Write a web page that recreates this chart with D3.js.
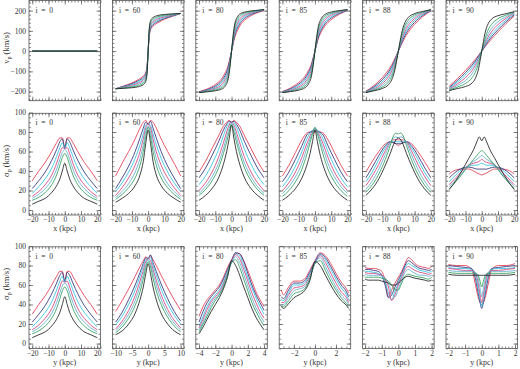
<!DOCTYPE html>
<html>
<head>
<meta charset="utf-8">
<script src="https://cdn.jsdelivr.net/npm/d3@7"></script>
<style>
	body { margin: 0; background: #fff; }
	text { font-family: "Liberation Serif", serif; fill: #333; }
</style>
</head>
<body>
<div id="chart-area"></div>
<script>
let width = 520;
let height = 369;

// inclinations, one per column
const inclinations = [0, 60, 80, 85, 88, 90];
// curve colours, black (innermost) to red (outermost)
const lineColors = ["#1e1e1e", "#2f9d5c", "#62afcc", "#d4407c", "#2ec3e2", "#34317a", "#e23a52"];

// ---- row 1: v_p along x ----
const vpX0 = [-20, 20];
const vp0 = [[0, 0], [0, 0], [0, 0], [0, 0], [0, 0], [0, 0], [0, 0]];

const vpX60 = [-20, -15, -10, -6, -3, -1.5, -0.7, 0, 0.7, 1.5, 3, 6, 10, 15, 20];
const vp60 = [
	[-186, -184, -181, -176, -166, -150, -112, 0, 112, 150, 166, 176, 181, 184, 186],
	[-186, -182, -177, -170, -158, -141, -105, 0, 105, 141, 158, 170, 177, 182, 186],
	[-186, -180, -173, -164, -150, -132, -98, 0, 98, 132, 150, 164, 173, 180, 186],
	[-186, -178, -169, -158, -143, -125, -92, 0, 92, 125, 143, 158, 169, 178, 186],
	[-186, -176, -165, -152, -136, -118, -86, 0, 86, 118, 136, 152, 165, 176, 186],
	[-186, -174, -161, -146, -130, -112, -80, 0, 80, 112, 130, 146, 161, 174, 186],
	[-186, -172, -157, -140, -123, -105, -74, 0, 74, 105, 123, 140, 157, 172, 186]
];

const vpX80 = [-20, -15, -10, -6, -4, -2, -1, 0, 1, 2, 4, 6, 10, 15, 20];
const vp80 = [
	[-205, -201, -196, -187, -174, -135, -80, 0, 80, 135, 174, 187, 196, 201, 205],
	[-205, -199, -192, -180, -164, -122, -70, 0, 70, 122, 164, 180, 192, 199, 205],
	[-205, -197, -188, -172, -153, -110, -62, 0, 62, 110, 153, 172, 188, 197, 205],
	[-204, -195, -183, -164, -142, -99, -54, 0, 54, 99, 142, 164, 183, 195, 204],
	[-203, -193, -178, -155, -131, -88, -47, 0, 47, 88, 131, 155, 178, 193, 203],
	[-202, -190, -172, -146, -120, -78, -41, 0, 41, 78, 120, 146, 172, 190, 202],
	[-200, -187, -165, -136, -108, -68, -35, 0, 35, 68, 108, 136, 165, 187, 200]
];

const vpX85 = [-20, -15, -10, -6, -4, -2, -1, 0, 1, 2, 4, 6, 10, 15, 20];
const vp85 = [
	[-205, -200, -193, -180, -162, -118, -66, 0, 66, 118, 162, 180, 193, 200, 205],
	[-205, -198, -188, -171, -150, -106, -58, 0, 58, 106, 150, 171, 188, 198, 205],
	[-204, -196, -183, -162, -139, -96, -51, 0, 51, 96, 139, 162, 183, 196, 204],
	[-203, -193, -177, -153, -128, -86, -45, 0, 45, 86, 128, 153, 177, 193, 203],
	[-202, -190, -170, -143, -117, -76, -40, 0, 40, 76, 117, 143, 170, 190, 202],
	[-201, -186, -163, -133, -106, -67, -34, 0, 34, 67, 106, 133, 163, 186, 201],
	[-200, -182, -155, -123, -96, -59, -30, 0, 30, 59, 96, 123, 155, 182, 200]
];

const vpX88 = [-20, -15, -10, -6, -4, -2, -1, 0, 1, 2, 4, 6, 10, 15, 20];
const vp88 = [
	[-205, -196, -185, -165, -140, -88, -46, 0, 46, 88, 140, 165, 185, 196, 205],
	[-204, -193, -178, -152, -124, -74, -38, 0, 38, 74, 124, 152, 178, 193, 204],
	[-203, -190, -170, -139, -110, -63, -32, 0, 32, 63, 110, 139, 170, 190, 203],
	[-202, -186, -161, -126, -97, -54, -27, 0, 27, 54, 97, 126, 161, 186, 202],
	[-201, -181, -152, -114, -86, -46, -23, 0, 23, 46, 86, 114, 152, 181, 201],
	[-200, -176, -142, -103, -76, -40, -20, 0, 20, 40, 76, 103, 142, 176, 200],
	[-198, -170, -132, -92, -66, -34, -17, 0, 17, 34, 66, 92, 132, 170, 198]
];

const vpX90 = [-20, -15, -10, -6, -4, -2, -1, 0, 1, 2, 4, 6, 10, 15, 20];
const vp90 = [
	[-195, -185, -175, -158, -136, -88, -46, 0, 46, 88, 136, 158, 175, 185, 195],
	[-193, -178, -160, -132, -106, -60, -30, 0, 30, 60, 106, 132, 160, 178, 193],
	[-190, -170, -145, -112, -86, -46, -23, 0, 23, 46, 86, 112, 145, 170, 190],
	[-187, -162, -131, -96, -70, -37, -18, 0, 18, 37, 70, 96, 131, 162, 187],
	[-183, -153, -118, -82, -58, -30, -15, 0, 15, 30, 58, 82, 118, 153, 183],
	[-179, -145, -106, -70, -49, -25, -12, 0, 12, 25, 49, 70, 106, 145, 179],
	[-173, -136, -95, -60, -41, -21, -10, 0, 10, 21, 41, 60, 95, 136, 173]
];

// ---- row 2: sigma_p along x ----
const sigX = [-20, -16, -12, -8, -5, -3, -1.5, 0, 1.5, 3, 5, 8, 12, 16, 20];
const sigX0 = [
	[6, 9, 12, 18, 25, 32, 40, 48, 40, 32, 25, 18, 12, 9, 6],
	[10, 13, 18, 26, 36, 46, 54, 58, 54, 46, 36, 26, 18, 13, 10],
	[12, 16, 22, 31, 42, 52, 59, 62, 59, 52, 42, 31, 22, 16, 12],
	[14, 19, 26, 36, 48, 58, 64, 63, 64, 58, 48, 36, 26, 19, 14],
	[17, 24, 32, 43, 55, 64, 69, 63, 69, 64, 55, 43, 32, 24, 17],
	[22, 30, 39, 51, 62, 70, 73, 64, 73, 70, 62, 51, 39, 30, 22],
	[30, 40, 49, 60, 69, 74, 74, 64, 74, 74, 69, 60, 49, 40, 30]
];
const sigX60 = [
	[8, 12, 17, 25, 36, 50, 68, 82, 68, 50, 36, 25, 17, 12, 8],
	[11, 16, 23, 33, 46, 60, 75, 85, 75, 60, 46, 33, 23, 16, 11],
	[13, 19, 27, 39, 53, 67, 80, 86, 80, 67, 53, 39, 27, 19, 13],
	[15, 23, 33, 46, 60, 73, 84, 88, 84, 73, 60, 46, 33, 23, 15],
	[19, 28, 39, 53, 67, 78, 87, 88, 87, 78, 67, 53, 39, 28, 19],
	[22, 33, 45, 60, 74, 84, 90, 88, 91, 84, 74, 60, 45, 33, 22],
	[35, 48, 60, 73, 84, 90, 92, 88, 92, 90, 84, 73, 60, 48, 35]
];
const sigX80 = [
	[10, 15, 22, 33, 47, 60, 73, 87, 73, 60, 47, 33, 22, 15, 10],
	[15, 21, 30, 43, 58, 70, 80, 88, 80, 70, 58, 43, 30, 21, 15],
	[17, 24, 34, 48, 63, 75, 84, 89, 84, 75, 63, 48, 34, 24, 17],
	[20, 28, 39, 54, 69, 80, 87, 90, 87, 80, 69, 54, 39, 28, 20],
	[26, 35, 47, 62, 76, 85, 89, 90, 89, 85, 76, 62, 47, 35, 26],
	[33, 43, 56, 70, 82, 88, 91, 90, 91, 88, 82, 70, 56, 43, 33],
	[39, 50, 63, 76, 86, 90, 92, 90, 92, 90, 86, 76, 63, 50, 39]
];
const sigX85 = [
	[10, 15, 22, 33, 46, 58, 70, 82, 70, 58, 46, 33, 22, 15, 10],
	[14, 20, 29, 42, 57, 69, 78, 85, 78, 69, 57, 42, 29, 20, 14],
	[17, 24, 34, 48, 63, 73, 80, 84, 80, 73, 63, 48, 34, 24, 17],
	[20, 28, 39, 54, 68, 76, 81, 83, 81, 76, 68, 54, 39, 28, 20],
	[24, 33, 45, 60, 73, 79, 82, 83, 82, 79, 73, 60, 45, 33, 24],
	[29, 39, 52, 66, 77, 80, 81, 81, 81, 80, 77, 66, 52, 39, 29],
	[35, 46, 59, 72, 79, 80, 80, 80, 80, 80, 79, 72, 59, 46, 35]
];
const sigX88 = [
	[15, 22, 32, 46, 58, 67, 72, 74, 72, 67, 58, 46, 32, 22, 15],
	[18, 26, 37, 52, 66, 76, 79, 78, 79, 76, 66, 52, 37, 26, 18],
	[21, 30, 42, 57, 69, 74, 75, 74, 75, 74, 69, 57, 42, 30, 21],
	[25, 35, 47, 61, 70, 72, 72, 72, 72, 72, 70, 61, 47, 35, 25],
	[29, 39, 52, 64, 70, 70, 70, 70, 70, 70, 70, 64, 52, 39, 29],
	[33, 44, 56, 66, 70, 69, 68, 68, 68, 69, 70, 66, 56, 44, 33],
	[39, 50, 60, 68, 70, 69, 68, 66, 68, 69, 70, 68, 60, 50, 39]
];
const sigX90 = [
	[21, 30, 41, 53, 62, 70, 75, 71, 75, 70, 62, 53, 41, 30, 21],
	[22, 29, 37, 46, 52, 56, 59, 61, 59, 56, 52, 46, 37, 29, 22],
	[24, 31, 38, 46, 50, 52, 54, 56, 54, 52, 50, 46, 38, 31, 24],
	[26, 33, 40, 46, 48, 49, 50, 52, 50, 49, 48, 46, 40, 33, 26],
	[29, 36, 42, 45, 46, 46, 47, 48, 47, 46, 46, 45, 42, 36, 29],
	[33, 39, 43, 44, 43, 42, 42, 42, 42, 42, 43, 44, 43, 39, 33],
	[37, 41, 42, 42, 40, 38, 37, 36, 37, 38, 40, 42, 42, 41, 37]
];

// ---- row 3: sigma_p along y ----
const sigY0x = sigX;
const sigY0 = sigX0;

const sigY60x = [-10, -8, -6, -4, -2.5, -1.5, -0.7, 0, 0.7, 1.5, 2.5, 4, 6, 8, 10];
const sigY60 = [
	[9, 13, 20, 31, 45, 58, 72, 82, 72, 58, 45, 31, 20, 13, 9],
	[11, 17, 26, 39, 53, 66, 78, 84, 79, 67, 54, 40, 27, 18, 12],
	[13, 20, 30, 44, 59, 71, 81, 86, 82, 72, 60, 45, 31, 21, 14],
	[15, 23, 34, 49, 64, 75, 84, 87, 85, 76, 65, 50, 35, 24, 16],
	[19, 28, 40, 55, 69, 79, 86, 87, 88, 80, 70, 56, 41, 29, 20],
	[22, 32, 45, 60, 73, 82, 88, 87, 91, 83, 74, 61, 46, 33, 23],
	[33, 44, 56, 69, 79, 85, 89, 87, 90, 86, 80, 70, 57, 45, 34]
];

const sigY80x = [-4, -3.5, -3, -2.5, -2, -1.5, -1, -0.5, 0, 0.5, 1, 1.5, 2, 2.5, 3, 3.5, 4];
const sigY80 = [
	[10, 17, 25, 33, 40, 47, 56, 68, 85, 80, 70, 58, 47, 36, 27, 20, 14],
	[12, 20, 28, 37, 44, 50, 58, 70, 83, 86, 78, 66, 54, 42, 33, 25, 18],
	[14, 22, 31, 40, 46, 51, 59, 71, 83, 89, 83, 71, 59, 47, 37, 29, 22],
	[16, 25, 35, 43, 48, 53, 61, 72, 84, 91, 87, 76, 64, 52, 42, 33, 26],
	[18, 28, 38, 45, 50, 55, 63, 74, 84, 92, 90, 80, 68, 57, 47, 38, 30],
	[22, 33, 42, 48, 53, 58, 66, 76, 85, 93, 92, 84, 72, 60, 50, 42, 34],
	[28, 38, 45, 50, 55, 60, 68, 78, 86, 93, 92, 85, 75, 64, 53, 45, 38]
];

const sigY85x = [-3.2, -3, -2.5, -2, -1.5, -1, -0.5, 0, 0.5, 1, 1.5, 2, 2.5, 3, 3.2];
const sigY85 = [
	[38, 36, 41, 47, 50, 54, 64, 84, 80, 70, 60, 51, 44, 39, 36],
	[38, 38, 44, 51, 53, 56, 66, 82, 85, 75, 64, 55, 47, 41, 38],
	[40, 40, 47, 54, 56, 58, 67, 82, 88, 79, 68, 58, 50, 44, 40],
	[42, 42, 50, 57, 58, 60, 69, 82, 90, 83, 72, 62, 53, 47, 42],
	[45, 44, 52, 60, 60, 62, 71, 83, 91, 86, 76, 66, 57, 50, 45],
	[48, 46, 55, 62, 62, 64, 73, 84, 92, 88, 79, 69, 60, 53, 48],
	[55, 50, 58, 64, 64, 66, 75, 85, 93, 90, 82, 72, 63, 56, 52]
];

const sigY88x = [-2, -1.8, -1.5, -1.2, -1, -0.8, -0.6, -0.4, -0.2, 0, 0.2, 0.4, 0.6, 0.8, 1, 1.3, 1.6, 1.8, 2];
const sigY88 = [
	[66, 65, 65, 65, 64, 63, 62, 60, 60, 62, 65, 68, 69, 68, 67, 66, 65, 64, 65],
	[68, 68, 68, 68, 67, 66, 64, 60, 55, 55, 62, 69, 71, 70, 69, 68, 67, 66, 68],
	[71, 70, 70, 70, 69, 67, 62, 52, 48, 56, 65, 73, 76, 74, 72, 70, 70, 69, 70],
	[73, 72, 72, 71, 70, 67, 58, 44, 50, 60, 68, 76, 79, 77, 75, 73, 72, 71, 72],
	[74, 74, 73, 72, 70, 63, 52, 45, 54, 62, 70, 78, 82, 80, 78, 75, 74, 73, 74],
	[76, 76, 75, 74, 70, 60, 47, 50, 58, 65, 72, 80, 85, 83, 80, 77, 76, 75, 76],
	[78, 77, 77, 76, 74, 65, 48, 55, 62, 68, 74, 82, 88, 86, 82, 79, 78, 77, 79]
];

const sigY90x = [-2, -1.5, -1, -0.6, -0.4, -0.25, -0.1, 0, 0.1, 0.25, 0.4, 0.6, 1, 1.5, 2];
const sigY90 = [
	[71, 70, 70, 70, 70, 70, 70, 70, 70, 70, 70, 70, 70, 70, 71],
	[73, 72, 72, 72, 72, 71, 64, 58, 64, 71, 72, 72, 72, 72, 73],
	[75, 74, 74, 74, 73, 69, 57, 48, 57, 69, 73, 74, 74, 74, 75],
	[77, 76, 75, 75, 73, 65, 50, 42, 50, 65, 73, 75, 75, 76, 77],
	[78, 77, 77, 76, 72, 60, 45, 38, 45, 60, 72, 76, 77, 77, 78],
	[80, 79, 78, 77, 68, 55, 42, 36, 42, 55, 68, 77, 78, 79, 80],
	[81, 80, 80, 76, 62, 50, 42, 40, 42, 50, 62, 76, 80, 80, 82]
];

// layout
let panelLeft = 29;
let panelStep = 83.4;
let panelW = 71.5;

let rows = [
	{ top: 0.5, h: 100.2, yDomain: [-245, 250], yMajor: d3.range(-200, 201, 100), yMinor: d3.range(-240, 241, 20),
		title: ["v", "p"], titleY: 48, xTitle: null },
	{ top: 113.3, h: 101.7, yDomain: [-5.1, 99.2], yMajor: d3.range(0, 101, 20), yMinor: d3.range(-5, 100, 5),
		title: ["\u03c3", "p"], titleY: 161, xTitle: "x (kpc)" },
	{ top: 246.8, h: 101.7, yDomain: [-5.1, 99.2], yMajor: d3.range(0, 101, 20), yMinor: d3.range(-5, 100, 5),
		title: ["\u03c3", "p"], titleY: 284, xTitle: "y (kpc)" }
];

// x extents and tick steps per panel
let rowXs = [
	[vpX0, vpX60, vpX80, vpX85, vpX88, vpX90],
	[sigX, sigX, sigX, sigX, sigX, sigX],
	[sigY0x, sigY60x, sigY80x, sigY85x, sigY88x, sigY90x]
];
let rowYs = [
	[vp0, vp60, vp80, vp85, vp88, vp90],
	[sigX0, sigX60, sigX80, sigX85, sigX88, sigX90],
	[sigY0, sigY60, sigY80, sigY85, sigY88, sigY90]
];
let wide = { dom: 22, major: 10, minor: 2 };
let rowAxes = [
	[wide, wide, wide, wide, wide, wide],
	[wide, wide, wide, wide, wide, wide],
	[wide, { dom: 11, major: 5, minor: 1 }, { dom: 4.4, major: 2, minor: 0.5 },
		{ dom: 3.4, major: 2, minor: 0.5 }, { dom: 2.15, major: 1, minor: 0.2 }, { dom: 2.15, major: 1, minor: 0.2 }]
];

let svg = d3.select("#chart-area")
	.append("svg")
	.attr("width", width)
	.attr("height", height);

let fmt = d3.format("");

rows.forEach((row, r) => {
	inclinations.forEach((inc, c) => {
		drawPanel(r, c, row, inc);
	});

	// y-axis title
	let t = svg.append("text")
		.attr("transform", `translate(9, ${row.titleY}) rotate(-90)`)
		.attr("text-anchor", "middle")
		.style("font-size", "8.5px");
	t.append("tspan").text(row.title[0]);
	t.append("tspan").attr("dy", 2).style("font-size", "6px").text(row.title[1]);
	t.append("tspan").attr("dy", -2).text(" (km/s)");
});

function ticksBetween(lo, hi, step) {
	let start = Math.ceil(lo / step - 1e-9) * step;
	return d3.range(start, hi + 1e-9, step).map(v => +v.toFixed(4));
}

function drawPanel(r, c, row, inc) {
	let ax = rowAxes[r][c];
	let x0 = panelLeft + c * panelStep;
	let g = svg.append("g").attr("transform", `translate(${x0}, ${row.top})`);

	let x = d3.scaleLinear().domain([-ax.dom, ax.dom]).range([0, panelW]);
	let y = d3.scaleLinear().domain(row.yDomain).range([row.h, 0]);

	let clipId = `clip-${r}-${c}`;
	g.append("clipPath").attr("id", clipId)
		.append("rect").attr("width", panelW).attr("height", row.h);

	let line = d3.line()
		.x(d => x(d[0]))
		.y(d => y(d[1]))
		.curve(d3.curveMonotoneX);

	let xs = rowXs[r][c];
	let series = rowYs[r][c];
	let lines = g.append("g").attr("clip-path", `url(#${clipId})`);
	// draw red first, black on top
	for (let k = series.length - 1; k >= 0; k--) {
		lines.append("path")
			.datum(series[k].map((v, j) => [xs[j], v]))
			.attr("d", line)
			.attr("fill", "none")
			.attr("stroke", lineColors[k])
			.attr("stroke-width", 0.85);
	}

	// ticks on all four sides, pointing inward
	let xMajor = ticksBetween(-ax.dom, ax.dom, ax.major);
	let xMinor = ticksBetween(-ax.dom, ax.dom, ax.minor);
	let showX = r > 0;

	let addAxis = (axis, tx, ty) => {
		g.append("g")
			.attr("transform", `translate(${tx}, ${ty})`)
			.style("font-size", "7.5px")
			.call(axis)
			.call(s => s.select(".domain").remove())
			.call(s => s.selectAll("line").attr("stroke", "#555").attr("stroke-width", 0.7));
	};

	addAxis(d3.axisBottom(x).tickValues(xMinor).tickSize(-2).tickFormat(""), 0, row.h);
	addAxis(d3.axisBottom(x).tickValues(xMajor).tickSize(-4).tickPadding(2)
		.tickFormat(showX ? fmt : ""), 0, row.h);
	addAxis(d3.axisTop(x).tickValues(xMinor).tickSize(-2).tickFormat(""), 0, 0);
	addAxis(d3.axisTop(x).tickValues(xMajor).tickSize(-4).tickFormat(""), 0, 0);

	addAxis(d3.axisLeft(y).tickValues(row.yMinor).tickSize(-2).tickFormat(""), 0, 0);
	addAxis(d3.axisLeft(y).tickValues(row.yMajor).tickSize(-4).tickPadding(3)
		.tickFormat(c === 0 ? fmt : ""), 0, 0);
	addAxis(d3.axisRight(y).tickValues(row.yMinor).tickSize(-2).tickFormat(""), panelW, 0);
	addAxis(d3.axisRight(y).tickValues(row.yMajor).tickSize(-4).tickFormat(""), panelW, 0);

	g.selectAll(".tick text").attr("fill", "#333");

	// frame
	g.append("rect")
		.attr("width", panelW)
		.attr("height", row.h)
		.attr("fill", "none")
		.attr("stroke", "#555")
		.attr("stroke-width", 0.8);

	// inclination label
	g.append("text")
		.attr("x", 6.5)
		.attr("y", 12)
		.attr("fill", "#333")
		.style("font-size", "7.5px")
		.attr("xml:space", "preserve")
		.text(`i  =  ${inc}`);

	// x-axis title
	if (row.xTitle) {
		g.append("text")
			.attr("x", panelW / 2)
			.attr("y", row.h + 16.5)
			.attr("text-anchor", "middle")
			.style("font-size", "8px")
			.text(row.xTitle);
	}
}
</script>
</body>
</html>
